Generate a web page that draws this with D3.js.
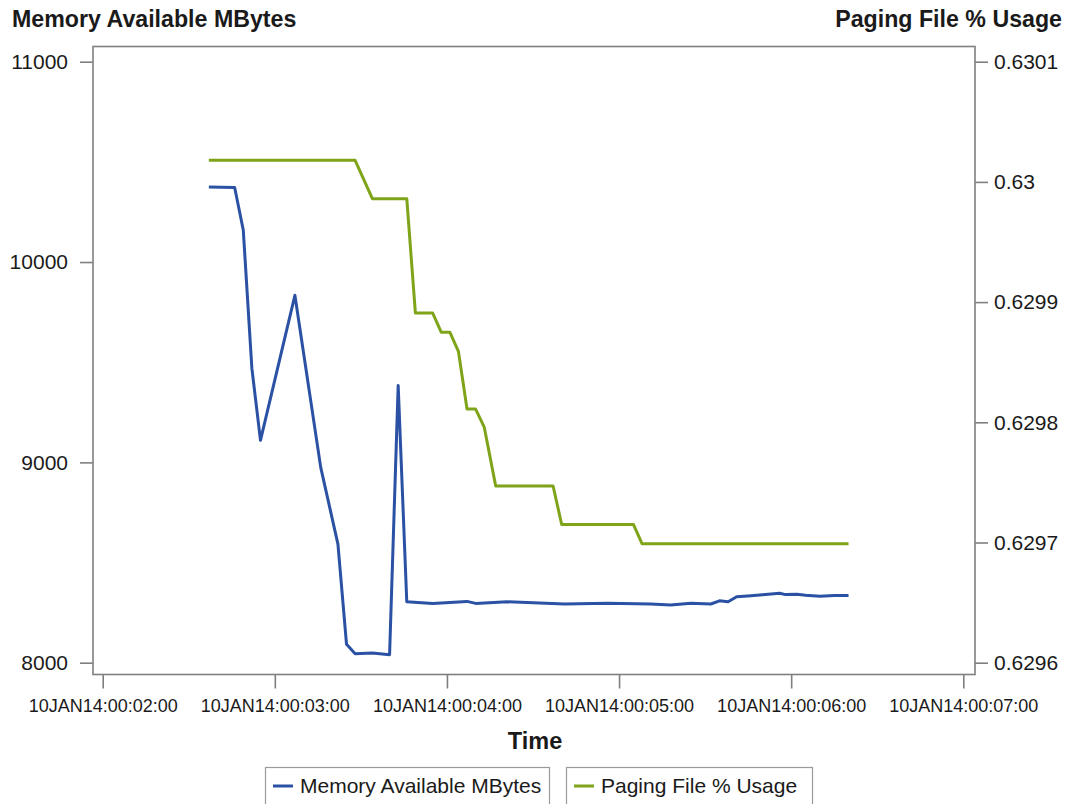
<!DOCTYPE html>
<html>
<head>
<meta charset="utf-8">
<script src="https://cdn.jsdelivr.net/npm/d3@7"></script>
<style>
  html, body { margin: 0; padding: 0; background: #fff; }
  svg { display: block; font-family: "Liberation Sans", Arial, sans-serif; }
</style>
</head>
<body>
<svg id="chart" width="1068" height="804"></svg>
<script>
// Performance counter samples, 10 Jan 2014
const memTimes = [
  "10JAN14:00:02:37", "10JAN14:00:02:46", "10JAN14:00:02:49", "10JAN14:00:02:52",
  "10JAN14:00:02:55", "10JAN14:00:03:07", "10JAN14:00:03:16", "10JAN14:00:03:22",
  "10JAN14:00:03:25", "10JAN14:00:03:28", "10JAN14:00:03:34", "10JAN14:00:03:40",
  "10JAN14:00:03:43", "10JAN14:00:03:46", "10JAN14:00:03:55", "10JAN14:00:04:07",
  "10JAN14:00:04:10", "10JAN14:00:04:21", "10JAN14:00:04:41", "10JAN14:00:04:56",
  "10JAN14:00:05:11", "10JAN14:00:05:18", "10JAN14:00:05:25", "10JAN14:00:05:32",
  "10JAN14:00:05:35", "10JAN14:00:05:38", "10JAN14:00:05:41", "10JAN14:00:05:46",
  "10JAN14:00:05:50", "10JAN14:00:05:56", "10JAN14:00:05:58", "10JAN14:00:06:02",
  "10JAN14:00:06:05", "10JAN14:00:06:10", "10JAN14:00:06:15", "10JAN14:00:06:20"
];
const memValues = [
  10375, 10372, 10160, 9470,
  9110, 9834, 8975, 8592,
  8092, 8045, 8048, 8040,
  9384, 8304, 8296, 8306,
  8296, 8304, 8293, 8297,
  8293, 8288, 8297, 8293,
  8309, 8304, 8329, 8334,
  8339, 8347, 8340, 8342,
  8337, 8332, 8335, 8336
];

const pageTimes = [
  "10JAN14:00:02:37", "10JAN14:00:03:28", "10JAN14:00:03:34", "10JAN14:00:03:46",
  "10JAN14:00:03:49", "10JAN14:00:03:55", "10JAN14:00:03:58", "10JAN14:00:04:01",
  "10JAN14:00:04:04", "10JAN14:00:04:07", "10JAN14:00:04:10", "10JAN14:00:04:13",
  "10JAN14:00:04:17", "10JAN14:00:04:37", "10JAN14:00:04:40", "10JAN14:00:05:05",
  "10JAN14:00:05:08", "10JAN14:00:06:20"
];
const pageValues = [
  0.630018, 0.630018, 0.629986, 0.629986,
  0.629891, 0.629891, 0.629875, 0.629875,
  0.629859, 0.629811, 0.629811, 0.629796,
  0.629747, 0.629747, 0.629715, 0.629715,
  0.629699, 0.629699
];

const xTickLabels = [
  "10JAN14:00:02:00", "10JAN14:00:03:00", "10JAN14:00:04:00",
  "10JAN14:00:05:00", "10JAN14:00:06:00", "10JAN14:00:07:00"
];
const memTicks = [8000, 9000, 10000, 11000];
const pageTicks = [0.6296, 0.6297, 0.6298, 0.6299, 0.63, 0.6301];

const seriesNames = ["Memory Available MBytes", "Paging File % Usage"];
const seriesColors = ["#2a51a3", "#7fa41a"];

// ---- layout ----
const frame = { left: 93, right: 975, top: 46.5, bottom: 674.5 };
const parseTime = d3.timeParse("%d%b%y:%H:%M:%S");
const fmtTime = d => d3.timeFormat("%d%b%y:%H:%M:%S")(d).toUpperCase();

const xTickDates = xTickLabels.map(parseTime);
// tick span mapped inside the frame, then extended out to the frame edges
const xInner = d3.scaleTime()
  .domain([xTickDates[0], xTickDates[xTickDates.length - 1]])
  .range([102.7, 963.3]);
const x = d3.scaleTime()
  .domain([xInner.invert(frame.left), xInner.invert(frame.right)])
  .range([frame.left, frame.right]);

const yMemInner = d3.scaleLinear().domain([8000, 11000]).range([662.7, 61.7]);
const yMem = d3.scaleLinear()
  .domain([yMemInner.invert(frame.bottom), yMemInner.invert(frame.top)])
  .range([frame.bottom, frame.top]);

const yPageInner = d3.scaleLinear().domain([0.6296, 0.6301]).range([662.7, 61.7]);
const yPage = d3.scaleLinear()
  .domain([yPageInner.invert(frame.bottom), yPageInner.invert(frame.top)])
  .range([frame.bottom, frame.top]);

const svg = d3.select("#chart");
const axisColor = "#7f7f7f";
const textColor = "#1a1a1a";

// axes
const xAxis = d3.axisBottom(x)
  .tickValues(xTickDates)
  .tickFormat(fmtTime)
  .tickSizeInner(14).tickSizeOuter(0).tickPadding(11);
const gx = svg.append("g")
  .attr("transform", `translate(0,${frame.bottom})`)
  .call(xAxis);

const yLeftAxis = d3.axisLeft(yMem)
  .tickValues(memTicks)
  .tickFormat(d3.format("d"))
  .tickSizeInner(13).tickSizeOuter(0).tickPadding(12);
const gyl = svg.append("g")
  .attr("transform", `translate(${frame.left},0)`)
  .call(yLeftAxis);

const yRightAxis = d3.axisRight(yPage)
  .tickValues(pageTicks)
  .tickFormat(d => String(+d.toFixed(4)))
  .tickSizeInner(13).tickSizeOuter(0).tickPadding(6);
const gyr = svg.append("g")
  .attr("transform", `translate(${frame.right},0)`)
  .call(yRightAxis);

[gx, gyl, gyr].forEach(g => {
  g.select(".domain").remove();
  g.selectAll(".tick line").attr("stroke", axisColor).attr("stroke-width", 1.6);
  g.selectAll(".tick text").attr("fill", textColor).attr("font-family", null);
});
gx.selectAll(".tick text").attr("font-size", 18);
gyl.selectAll(".tick text").attr("font-size", 21);
gyr.selectAll(".tick text").attr("font-size", 21);

// plot frame
svg.append("rect")
  .attr("x", frame.left).attr("y", frame.top)
  .attr("width", frame.right - frame.left)
  .attr("height", frame.bottom - frame.top)
  .attr("fill", "none")
  .attr("stroke", axisColor)
  .attr("stroke-width", 1.6);

// series lines
const memLine = d3.line()
  .x((d, i) => x(parseTime(memTimes[i])))
  .y(d => yMem(d));
const pageLine = d3.line()
  .x((d, i) => x(parseTime(pageTimes[i])))
  .y(d => yPage(d));

svg.append("path")
  .datum(pageValues)
  .attr("d", pageLine)
  .attr("fill", "none")
  .attr("stroke", seriesColors[1])
  .attr("stroke-width", 3)
  .attr("stroke-linejoin", "round");

svg.append("path")
  .datum(memValues)
  .attr("d", memLine)
  .attr("fill", "none")
  .attr("stroke", seriesColors[0])
  .attr("stroke-width", 3)
  .attr("stroke-linejoin", "round");

// axis titles
svg.append("text")
  .attr("x", 12).attr("y", 27)
  .attr("font-size", 23.2).attr("font-weight", "bold").attr("fill", textColor)
  .text(seriesNames[0]);
svg.append("text")
  .attr("x", 1062).attr("y", 27)
  .attr("text-anchor", "end")
  .attr("font-size", 23.2).attr("font-weight", "bold").attr("fill", textColor)
  .text(seriesNames[1]);
svg.append("text")
  .attr("x", (frame.left + frame.right) / 2 + 1).attr("y", 749)
  .attr("text-anchor", "middle")
  .attr("font-size", 23.5).attr("font-weight", "bold").attr("fill", textColor)
  .text("Time");

// legend
const legendItems = [
  { name: seriesNames[0], color: seriesColors[0], x: 265, w: 284 },
  { name: seriesNames[1], color: seriesColors[1], x: 566, w: 246 }
];
const lg = svg.append("g");
legendItems.forEach(it => {
  const g = lg.append("g").attr("transform", `translate(${it.x},767)`);
  g.append("rect")
    .attr("x", 0.5).attr("y", 0.5)
    .attr("width", it.w).attr("height", 40)
    .attr("fill", "#fff").attr("stroke", "#9a9a9a").attr("stroke-width", 1.2);
  g.append("line")
    .attr("x1", 8).attr("x2", 28).attr("y1", 19).attr("y2", 19)
    .attr("stroke", it.color).attr("stroke-width", 3);
  g.append("text")
    .attr("x", 35).attr("y", 26)
    .attr("font-size", 21).attr("fill", textColor)
    .text(it.name);
});
</script>
</body>
</html>
